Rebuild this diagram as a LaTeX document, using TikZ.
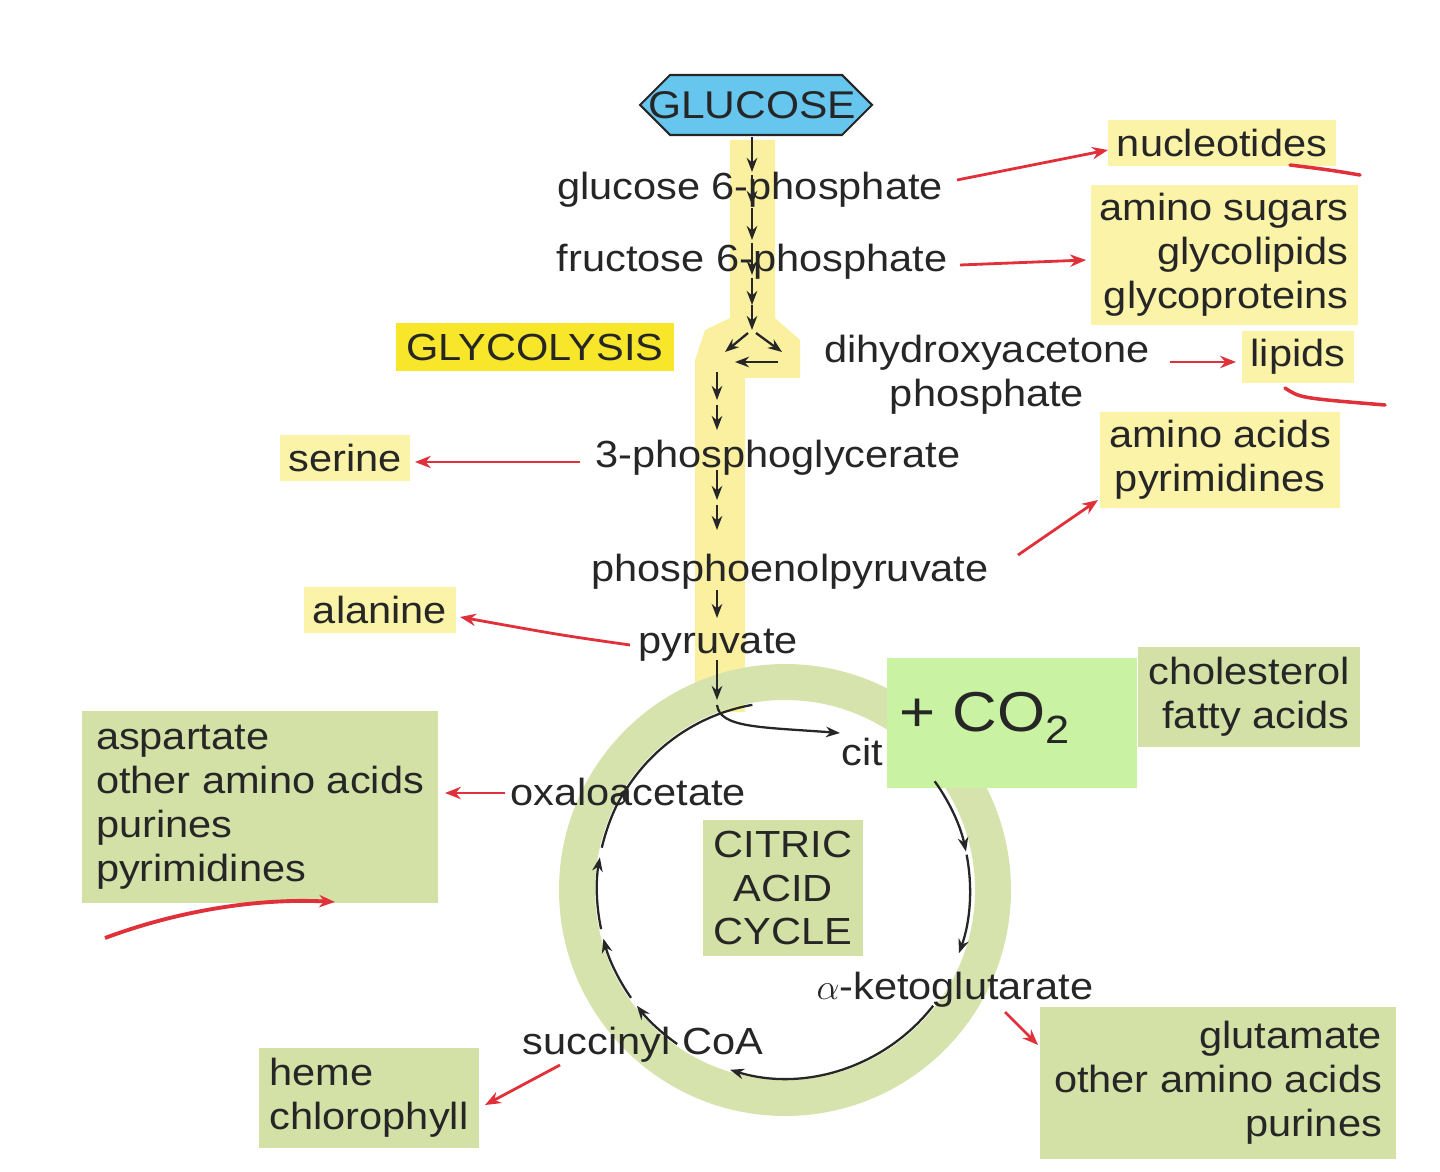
\documentclass[tikz,border=0pt]{standalone}
\usepackage{fontspec}
\setmainfont[FakeStretch=1.1]{Liberation Sans}
\usetikzlibrary{arrows.meta,calc}
\definecolor{ink}{HTML}{262626}
\definecolor{band}{HTML}{FAF0A0}
\definecolor{pale}{HTML}{FAF3A8}
\definecolor{glyc}{HTML}{F7E62A}
\definecolor{sage}{HTML}{D3E0A6}
\definecolor{ring}{HTML}{D6E3AD}
\definecolor{lime}{HTML}{C9F2A2}
\definecolor{sky}{HTML}{66C6EE}
\definecolor{redarr}{HTML}{E0303A}
\tikzset{
 lbl/.style={text=ink,font=\fontsize{21.5}{25}\selectfont,inner sep=1pt},
 ybox/.style={lbl,fill=pale,inner sep=5pt},
 gbox/.style={lbl,fill=sage,inner sep=6pt},
 rarr/.style={redarr,line width=1.6pt,-{Stealth[length=9pt,width=7pt]}},
 barr/.style={ink,line width=1.3pt,-{Stealth[length=8pt,width=6pt]}},
}
\begin{document}
\begin{tikzpicture}[x=0.02cm,y=-0.02cm]
\useasboundingbox (0,0) rectangle (1440,1172);
\coordinate (cc) at (785,890);
% yellow band
\fill[band] (730,140) -- (775,140) -- (775,318) -- (800,340) -- (800,378) -- (745,378) -- (745,712) -- (695,712) -- (695,360) -- (705,330) -- (730,318) -- cycle;
% ring
\draw[ring,line width=0.72cm] (cc) circle (208);
% glucose
\fill[sky,draw=ink,line width=1.2pt] (640,105) -- (670,75) -- (842,75) -- (872,105) -- (842,135) -- (670,135) -- cycle;
\node[lbl,font=\fontsize{22}{26}\selectfont] (glc) at (752,105) {GLUCOSE};
% pathway texts
\node[lbl] (g6p) at (750,190) {glucose 6-phosphate};
\node[lbl] (f6p) at (752,262) {fructose 6-phosphate};
\node[lbl,fill=glyc,inner sep=6pt] (gly) at (535,347) {GLYCOLYSIS};
\node[lbl,align=center] (dhap) at (987,375) {dihydroxyacetone\\phosphate};
\node[lbl] (pg3) at (778,458) {3-phosphoglycerate};
\node[lbl] (pep) at (790,572) {phosphoenolpyruvate};
\node[lbl] (pyr) at (718,645) {pyruvate};
\node[lbl] (cit) at (862,752) {cit};
\node[lbl] (oaa) at (628,792) {oxaloacetate};
\node[lbl] (akg) at (955,990) {$\alpha$-ketoglutarate};
\node[lbl] (suc) at (643,1045) {succinyl CoA};
% products
\node[ybox] (nuc) at (1222,143) {nucleotides};
\node[ybox,align=right] (sug) at (1224,255) {amino sugars\\glycolipids\\glycoproteins};
\node[ybox] (lip) at (1298,357) {lipids};
\node[ybox,align=center] (aa) at (1220,460) {amino acids\\pyrimidines};
\node[ybox] (ser) at (345,458) {serine};
\node[ybox] (ala) at (380,610) {alanine};
\node[gbox,align=right] (chol) at (1249,697) {cholesterol\\fatty acids};
\node[fill=lime,minimum width=250*0.02cm,minimum height=130*0.02cm,text=ink] (co2box) at (1012,723) {};
\node[text=ink,font=\fontsize{32}{36}\selectfont] (co2) at (985,718) {+ CO\textsubscript{2}};
\node[gbox,align=left,inner sep=8pt] (asp) at (260,807) {aspartate\\other amino acids\\purines\\pyrimidines};
\node[gbox,align=center] (cac) at (783,888) {CITRIC\\ACID\\CYCLE};
\node[gbox,align=left] (heme) at (369,1098) {heme\\chlorophyll};
\node[gbox,align=right,inner sep=8pt] (glu) at (1218,1083) {glutamate\\other amino acids\\purines};
% black pathway arrows
\foreach \a/\b in {137/172,175/205,208/240,243/275,278/305,305/330}
  \draw[barr] (752,\a) -- (752,\b);
\draw[barr] (748,333) -- (725,352);
\draw[barr] (756,333) -- (782,352);
\draw[barr] (778,362) -- (735,362);
\foreach \a/\b in {372/400,405/430,470/500,505/530,590/618,660/700}
  \draw[barr] (717,\a) -- (717,\b);
\draw[barr] (717,705) .. controls (720,728) and (760,727) .. (840,733);
% cycle arrows (angles negated because y is flipped)
\draw[ink,line width=1.3pt] ($(cc)+(-150:188)$) arc[start angle=-150,end angle=-100,radius=188];
\draw[barr] ($(cc)+(-36:185)$) arc[start angle=-36,end angle=-12,radius=185];
\draw[barr] ($(cc)+(-11:185)$) arc[start angle=-11,end angle=20,radius=185];
\draw[barr] ($(cc)+(38:188)$) arc[start angle=38,end angle=107,radius=188];
\foreach \s/\e in {125/142,145/165,168/190,193/213}
  \draw[barr] ($(cc)+(\s:188)$) arc[start angle=\s,end angle=\e,radius=188];
% red arrows
\draw[rarr] (957,180) -- (1108,150);
\draw[rarr] (960,265) -- (1086,260);
\draw[rarr] (1170,362) -- (1236,362);
\draw[rarr] (580,462) -- (415,462);
\draw[rarr] (1018,555) -- (1098,500);
\draw[rarr] (630,645) .. controls (560,635) .. (460,617);
\draw[rarr] (505,793) -- (445,793);
\draw[rarr] (1005,1012) -- (1038,1045);
\draw[rarr] (560,1065) -- (485,1105);
% red annotation marks
\draw[redarr,line width=2pt,line cap=round] (1290,165) .. controls (1330,170) .. (1360,175);
\draw[redarr,line width=2pt,line cap=round] (1285,388) .. controls (1300,398) .. (1385,405);
\draw[rarr,line width=2.2pt] (105,938) .. controls (180,910) and (260,898) .. (335,902);
\end{tikzpicture}
\end{document}
